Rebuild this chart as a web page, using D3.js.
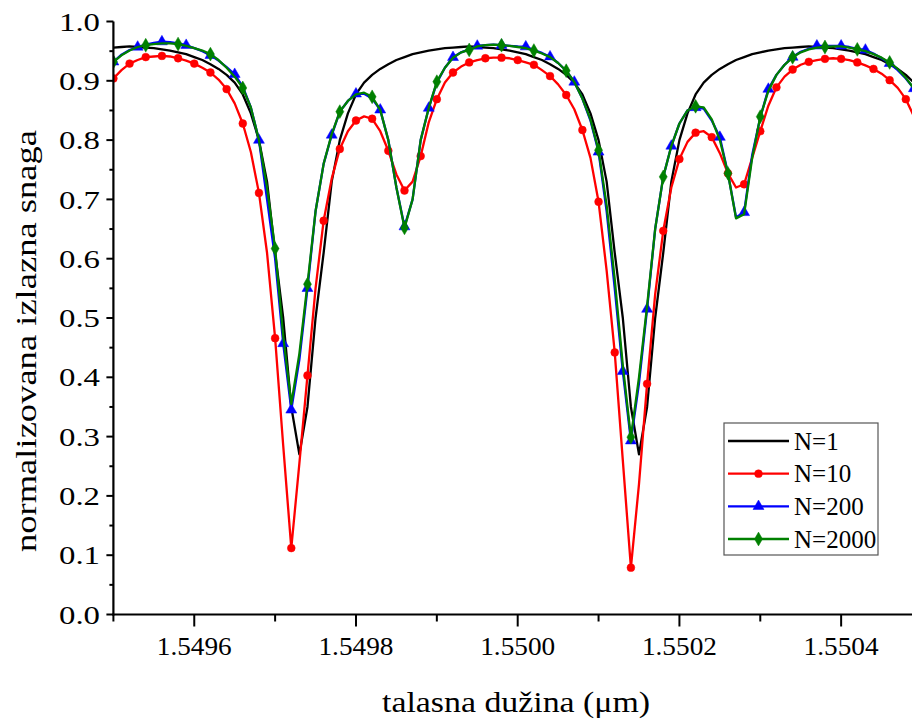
<!DOCTYPE html>
<html><head><meta charset="utf-8">
<script src="https://cdn.jsdelivr.net/npm/d3@7"></script>
<style>
html,body{margin:0;padding:0;background:#fff;}
svg{display:block;}
</style></head>
<body>
<svg id="chart" width="912" height="721"></svg>
<script>
// wavelength grid (µm)
const wavelength = [1.54950,1.54951,1.54952,1.54953,1.54954,1.54955,1.54956,1.54957,1.54958,1.54959,
1.54960,1.54961,1.54962,1.54963,1.54964,1.54965,1.54966,1.54967,1.54968,1.54969,
1.54970,1.54971,1.54972,1.54973,1.54974,1.54975,1.54976,1.54977,1.54978,1.54979,
1.54980,1.54981,1.54982,1.54983,1.54984,1.54985,1.54986,1.54987,1.54988,1.54989,
1.54990,1.54991,1.54992,1.54993,1.54994,1.54995,1.54996,1.54997,1.54998,1.54999,
1.55000,1.55001,1.55002,1.55003,1.55004,1.55005,1.55006,1.55007,1.55008,1.55009,
1.55010,1.55011,1.55012,1.55013,1.55014,1.55015,1.55016,1.55017,1.55018,1.55019,
1.55020,1.55021,1.55022,1.55023,1.55024,1.55025,1.55026,1.55027,1.55028,1.55029,
1.55030,1.55031,1.55032,1.55033,1.55034,1.55035,1.55036,1.55037,1.55038,1.55039,
1.55040,1.55041,1.55042,1.55043,1.55044,1.55045,1.55046,1.55047,1.55048,1.55049,1.55050];

const powerN1 = [0.956,0.957,0.958,0.957,0.956,0.955,0.953,0.951,0.948,0.945,
0.940,0.935,0.928,0.920,0.910,0.897,0.877,0.845,0.800,0.730,
0.610,0.500,0.350,0.270,0.350,0.500,0.610,0.730,0.800,0.845,
0.877,0.897,0.910,0.920,0.928,0.935,0.940,0.945,0.948,0.951,
0.953,0.955,0.956,0.957,0.958,0.957,0.956,0.955,0.953,0.951,
0.948,0.945,0.940,0.935,0.928,0.920,0.910,0.897,0.877,0.845,
0.800,0.730,0.610,0.500,0.350,0.270,0.350,0.500,0.610,0.730,
0.800,0.845,0.877,0.897,0.910,0.920,0.928,0.935,0.940,0.945,
0.948,0.951,0.953,0.955,0.956,0.957,0.958,0.957,0.956,0.955,
0.953,0.951,0.948,0.945,0.940,0.935,0.928,0.920,0.910,0.897,0.877];

const powerN10 = [0.904,0.918,0.929,0.935,0.940,0.941,0.942,0.941,0.938,0.934,
0.929,0.922,0.914,0.902,0.886,0.862,0.828,0.780,0.711,0.610,
0.466,0.285,0.112,0.255,0.403,0.550,0.664,0.735,0.785,0.815,
0.833,0.840,0.836,0.815,0.782,0.742,0.715,0.730,0.773,0.830,
0.869,0.897,0.914,0.924,0.931,0.935,0.938,0.939,0.939,0.938,
0.935,0.931,0.927,0.918,0.908,0.894,0.876,0.852,0.817,0.770,
0.696,0.580,0.442,0.260,0.079,0.220,0.389,0.540,0.647,0.720,
0.768,0.797,0.8125,0.815,0.805,0.778,0.744,0.720,0.7255,0.770,
0.815,0.858,0.889,0.907,0.919,0.927,0.932,0.935,0.937,0.938,
0.937,0.935,0.931,0.926,0.920,0.912,0.901,0.888,0.869,0.840,0.800];

const powerN200 = [0.932,0.944,0.952,0.957,0.961,0.964,0.966,0.965,0.963,0.960,
0.955,0.950,0.943,0.934,0.923,0.911,0.890,0.855,0.800,0.700,
0.600,0.457,0.345,0.430,0.550,0.680,0.760,0.8086,0.848,0.866,
0.878,0.878,0.870,0.851,0.800,0.720,0.654,0.700,0.800,0.854,
0.897,0.922,0.9396,0.948,0.953,0.9587,0.960,0.961,0.960,0.959,
0.958,0.9575,0.952,0.947,0.9406,0.930,0.917,0.898,0.870,0.833,
0.780,0.680,0.550,0.410,0.293,0.390,0.515,0.650,0.738,0.790,
0.828,0.850,0.855,0.853,0.833,0.805,0.744,0.670,0.678,0.775,
0.838,0.886,0.910,0.927,0.940,0.949,0.954,0.959,0.959,0.959,
0.959,0.957,0.954,0.952,0.946,0.938,0.9295,0.918,0.904,0.887,0.860];

const powerN2000 = [0.932,0.943,0.951,0.957,0.960,0.962,0.963,0.963,0.962,0.959,
0.955,0.951,0.945,0.935,0.922,0.907,0.888,0.855,0.800,0.720,
0.617,0.470,0.355,0.440,0.557,0.680,0.760,0.810,0.848,0.866,
0.877,0.880,0.873,0.851,0.800,0.720,0.652,0.700,0.800,0.854,
0.8985,0.922,0.939,0.948,0.952,0.958,0.960,0.961,0.960,0.959,
0.957,0.955,0.951,0.946,0.940,0.930,0.917,0.898,0.870,0.835,
0.783,0.690,0.565,0.420,0.299,0.400,0.520,0.650,0.738,0.790,
0.828,0.850,0.857,0.855,0.835,0.800,0.744,0.668,0.675,0.770,
0.8395,0.883,0.910,0.927,0.9396,0.948,0.953,0.956,0.957,0.958,
0.958,0.956,0.953,0.950,0.945,0.939,0.931,0.920,0.905,0.887,0.860];

const seriesNames = ["N=1","N=10","N=200","N=2000"];
const xMajorTicks = [1.5496,1.5498,1.5500,1.5502,1.5504];
const xMinorTicks = [1.5495,1.5497,1.5499,1.5501,1.5503,1.5505];
const yMajorTicks = [0.0,0.1,0.2,0.3,0.4,0.5,0.6,0.7,0.8,0.9,1.0];
const yMinorTicks = [0.05,0.15,0.25,0.35,0.45,0.55,0.65,0.75,0.85,0.95];
const extraMarkersN200 = [1.54972,1.55014];

const xLabel = "talasna dužina (μm)";
const yLabel = "normalizovana izlazna snaga";

const series = [
  {name: seriesNames[0], y: powerN1, color: "#000000", marker: null, step: 0},
  {name: seriesNames[1], y: powerN10, color: "#ff0000", marker: "circle", step: 2},
  {name: seriesNames[2], y: powerN200, color: "#0000ff", marker: "triangle", step: 3, extra: extraMarkersN200},
  {name: seriesNames[3], y: powerN2000, color: "#008000", marker: "diamond", step: 4}
];

const svg = d3.select("#chart");
const FONT = "'Liberation Serif', 'Times New Roman', serif";

const x = d3.scaleLinear().domain([1.5495, 1.5505]).range([113.4, 922]);
const y = d3.scaleLinear().domain([0, 1]).range([614.5, 21.5]);

svg.append("defs").append("clipPath").attr("id","clip")
  .append("rect").attr("x",113.4).attr("y",0).attr("width",808.6).attr("height",614.5);

const plot = svg.append("g").attr("clip-path","url(#clip)");

const line = d3.line().x((d,i)=>x(wavelength[i])).y(d=>y(d));

const symbolFor = {
  circle: d3.symbol().type(d3.symbolCircle).size(48),
  triangle: d3.symbol().type(d3.symbolTriangle).size(52),
  diamond: d3.symbol().type(d3.symbolDiamond).size(55)
};

series.forEach(s => {
  plot.append("path").datum(s.y)
    .attr("d", line)
    .attr("fill","none")
    .attr("stroke", s.color)
    .attr("stroke-width", 2.3)
    .attr("stroke-linejoin","round");
  if (s.marker) {
    const pts = s.y.map((v,i)=>({x: wavelength[i], v, i}))
      .filter(p => p.i % s.step === 0 || (s.extra && s.extra.some(e => Math.abs(e - p.x) < 1e-9)));
    plot.selectAll(null).data(pts).enter().append("path")
      .attr("d", symbolFor[s.marker])
      .attr("transform", p => `translate(${x(p.x)},${y(p.v)})`)
      .attr("fill", s.color).attr("stroke", s.color).attr("stroke-width", 0.5);
  }
});

// axes
const axisG = svg.append("g");
axisG.append("line").attr("x1", 112.4).attr("x2", 912).attr("y1", y(0)).attr("y2", y(0))
  .attr("stroke","#000").attr("stroke-width",2.2);
axisG.append("line").attr("x1", x(1.5495)).attr("x2", x(1.5495)).attr("y1", y(1)).attr("y2", y(0)+1)
  .attr("stroke","#000").attr("stroke-width",2.2);

// x ticks
axisG.selectAll(null).data(xMajorTicks).enter().append("line")
  .attr("x1", d=>x(d)).attr("x2", d=>x(d)).attr("y1", y(0)).attr("y2", y(0)+12)
  .attr("stroke","#000").attr("stroke-width",2);
axisG.selectAll(null).data(xMinorTicks).enter().append("line")
  .attr("x1", d=>x(d)).attr("x2", d=>x(d)).attr("y1", y(0)).attr("y2", y(0)+7)
  .attr("stroke","#000").attr("stroke-width",2);
axisG.selectAll(null).data(xMajorTicks).enter().append("text")
  .attr("x", d=>x(d)).attr("y", 655)
  .attr("text-anchor","middle")
  .attr("font-family", FONT).attr("font-size", 26)
  .attr("textLength", 75).attr("lengthAdjust","spacingAndGlyphs")
  .text(d=>d3.format(".4f")(d));

// y ticks
axisG.selectAll(null).data(yMajorTicks).enter().append("line")
  .attr("x1", x(1.5495)-7).attr("x2", x(1.5495)).attr("y1", d=>y(d)).attr("y2", d=>y(d))
  .attr("stroke","#000").attr("stroke-width",2);
axisG.selectAll(null).data(yMinorTicks).enter().append("line")
  .attr("x1", x(1.5495)-4).attr("x2", x(1.5495)).attr("y1", d=>y(d)).attr("y2", d=>y(d))
  .attr("stroke","#000").attr("stroke-width",2);
axisG.selectAll(null).data(yMajorTicks).enter().append("text")
  .attr("x", 100).attr("y", d=>y(d))
  .attr("dy","0.35em")
  .attr("text-anchor","end")
  .attr("font-family", FONT).attr("font-size", 26)
  .attr("textLength", 41).attr("lengthAdjust","spacingAndGlyphs")
  .text(d=>d3.format(".1f")(d));

// titles
svg.append("text").attr("x", 516).attr("y", 712).attr("text-anchor","middle")
  .attr("font-family", FONT).attr("font-size", 29)
  .attr("textLength", 268).attr("lengthAdjust","spacingAndGlyphs")
  .text(xLabel);
svg.append("text").attr("transform","translate(36,341) rotate(-90)").attr("text-anchor","middle")
  .attr("font-family", FONT).attr("font-size", 29)
  .attr("textLength", 422).attr("lengthAdjust","spacingAndGlyphs")
  .text(yLabel);

// legend
const lg = svg.append("g");
lg.append("rect").attr("x",724).attr("y",423).attr("width",154).attr("height",132)
  .attr("fill","#fff").attr("stroke","#555").attr("stroke-width",1.2);
const legendY = d3.scalePoint().domain(seriesNames).range([441, 539]);
series.forEach(s => {
  const ly = legendY(s.name);
  lg.append("line").attr("x1",728).attr("x2",789).attr("y1",ly).attr("y2",ly)
    .attr("stroke", s.color).attr("stroke-width",2.3);
  if (s.marker) {
    lg.append("path").attr("d", symbolFor[s.marker]).attr("transform",`translate(758.5,${ly})`)
      .attr("fill", s.color).attr("stroke", s.color).attr("stroke-width",0.5);
  }
  lg.append("text").attr("x",794).attr("y",ly).attr("dy","0.35em")
    .attr("font-family", FONT).attr("font-size", 25).text(s.name);
});
</script>
</body></html>
